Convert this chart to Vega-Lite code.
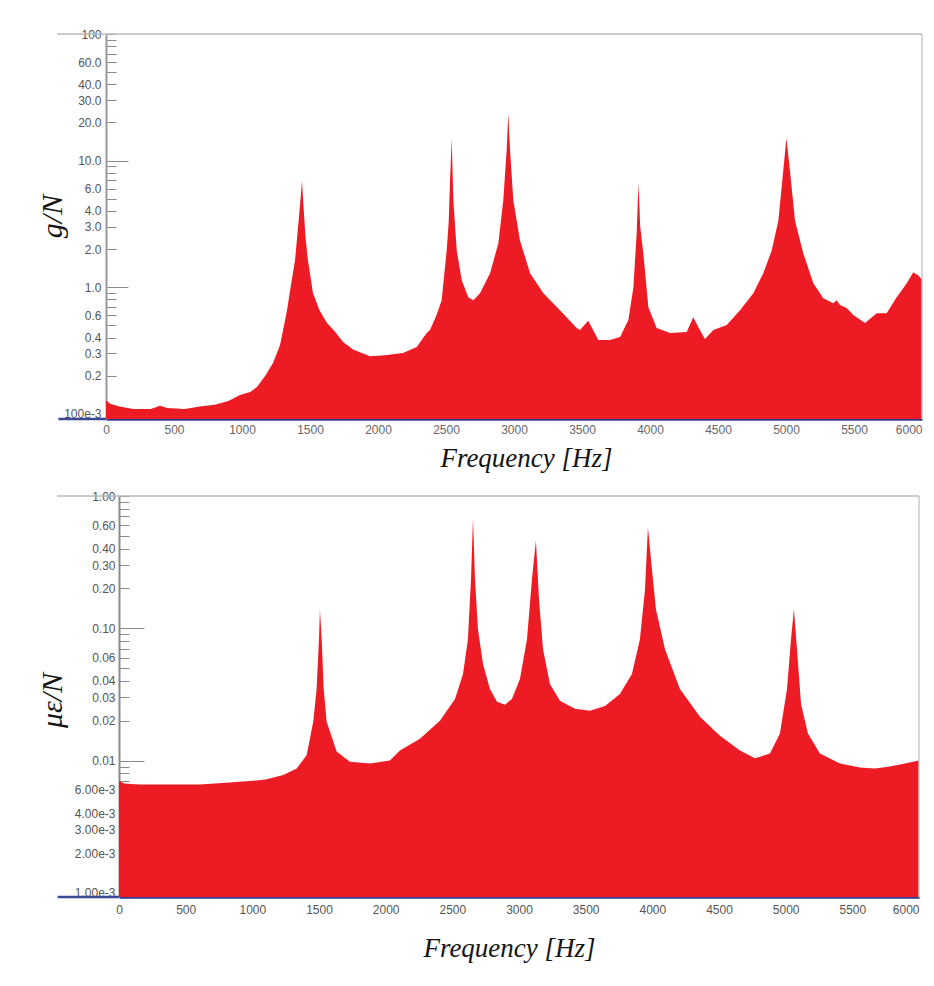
{
  "$schema": "https://vega.github.io/schema/vega-lite/v6.json",
  "background": "white",
  "padding": {"left": 37, "top": 28, "right": 5, "bottom": 5},
  "spacing": 19,
  "config": {
    "view": {"stroke": null},
    "axis": {
      "labelFont": "Liberation Sans",
      "labelFontSize": 12,
      "labelColor": "#555555",
      "titleFont": "Liberation Serif",
      "titleFontStyle": "italic",
      "titleFontWeight": "normal",
      "titleColor": "#151515",
      "titleFontSize": 27,
      "grid": false
    }
  },
  "datasets": {
    "accel": [
      {"f":0,"v":0.128},{"f":30,"v":0.120},{"f":100,"v":0.114},{"f":200,"v":0.109},{"f":330,"v":0.109},{"f":397,"v":0.116},{"f":450,"v":0.111},{"f":580,"v":0.109},{"f":690,"v":0.114},{"f":800,"v":0.118},{"f":900,"v":0.126},{"f":985,"v":0.141},{"f":1060,"v":0.149},{"f":1110,"v":0.163},{"f":1170,"v":0.199},{"f":1228,"v":0.252},{"f":1280,"v":0.349},{"f":1331,"v":0.659},{"f":1360,"v":1.04},{"f":1390,"v":1.63},{"f":1412,"v":2.97},{"f":1434,"v":5.5},{"f":1441,"v":6.96},{"f":1451,"v":4.57},{"f":1468,"v":2.4},{"f":1485,"v":1.63},{"f":1522,"v":0.897},{"f":1570,"v":0.659},{"f":1625,"v":0.521},{"f":1680,"v":0.45},{"f":1743,"v":0.369},{"f":1820,"v":0.32},{"f":1919,"v":0.292},{"f":1941,"v":0.285},{"f":2050,"v":0.29},{"f":2184,"v":0.302},{"f":2285,"v":0.337},{"f":2358,"v":0.434},{"f":2382,"v":0.46},{"f":2430,"v":0.6},{"f":2468,"v":0.79},{"f":2505,"v":1.95},{"f":2520,"v":3.3},{"f":2529,"v":6.6},{"f":2542,"v":15.0},{"f":2554,"v":4.84},{"f":2579,"v":1.95},{"f":2616,"v":1.135},{"f":2664,"v":0.834},{"f":2701,"v":0.79},{"f":2750,"v":0.897},{"f":2824,"v":1.29},{"f":2885,"v":2.22},{"f":2921,"v":4.84},{"f":2946,"v":12.0},{"f":2958,"v":23.4},{"f":2971,"v":12.0},{"f":2995,"v":4.84},{"f":3044,"v":2.34},{"f":3118,"v":1.29},{"f":3216,"v":0.897},{"f":3338,"v":0.659},{"f":3461,"v":0.476},{"f":3485,"v":0.459},{"f":3546,"v":0.543},{"f":3620,"v":0.383},{"f":3706,"v":0.383},{"f":3780,"v":0.404},{"f":3841,"v":0.55},{"f":3878,"v":1.0},{"f":3902,"v":2.66},{"f":3915,"v":6.7},{"f":3928,"v":3.0},{"f":3951,"v":1.85},{"f":3988,"v":0.696},{"f":4049,"v":0.476},{"f":4147,"v":0.434},{"f":4270,"v":0.442},{"f":4318,"v":0.58},{"f":4355,"v":0.484},{"f":4404,"v":0.39},{"f":4466,"v":0.459},{"f":4564,"v":0.502},{"f":4662,"v":0.659},{"f":4760,"v":0.897},{"f":4833,"v":1.29},{"f":4895,"v":1.95},{"f":4944,"v":3.37},{"f":4980,"v":8.34},{"f":5003,"v":15.0},{"f":5029,"v":8.34},{"f":5066,"v":3.37},{"f":5127,"v":1.85},{"f":5201,"v":1.075},{"f":5274,"v":0.819},{"f":5348,"v":0.748},{"f":5373,"v":0.79},{"f":5397,"v":0.722},{"f":5446,"v":0.684},{"f":5495,"v":0.602},{"f":5581,"v":0.521},{"f":5667,"v":0.624},{"f":5740,"v":0.624},{"f":5814,"v":0.834},{"f":5888,"v":1.075},{"f":5936,"v":1.31},{"f":5973,"v":1.24},{"f":6000,"v":1.15}
    ],
    "strain": [
      {"f":0,"v":0.0070},{"f":40,"v":0.0067},{"f":150,"v":0.0066},{"f":400,"v":0.0066},{"f":607,"v":0.0066},{"f":800,"v":0.0068},{"f":982,"v":0.0070},{"f":1100,"v":0.0072},{"f":1232,"v":0.00776},{"f":1333,"v":0.00871},{"f":1408,"v":0.0110},{"f":1457,"v":0.0197},{"f":1482,"v":0.0348},{"f":1500,"v":0.0826},{"f":1507,"v":0.138},{"f":1520,"v":0.0826},{"f":1535,"v":0.035},{"f":1557,"v":0.0197},{"f":1632,"v":0.0117},{"f":1732,"v":0.0098},{"f":1882,"v":0.0095},{"f":2032,"v":0.0100},{"f":2107,"v":0.0119},{"f":2257,"v":0.0146},{"f":2407,"v":0.0200},{"f":2520,"v":0.0292},{"f":2580,"v":0.0451},{"f":2617,"v":0.0826},{"f":2640,"v":0.234},{"f":2655,"v":0.68},{"f":2670,"v":0.234},{"f":2692,"v":0.0983},{"f":2730,"v":0.0536},{"f":2782,"v":0.0348},{"f":2835,"v":0.0278},{"f":2895,"v":0.0264},{"f":2947,"v":0.0292},{"f":3007,"v":0.0414},{"f":3060,"v":0.0826},{"f":3097,"v":0.234},{"f":3127,"v":0.46},{"f":3150,"v":0.165},{"f":3180,"v":0.0695},{"f":3232,"v":0.0379},{"f":3307,"v":0.0283},{"f":3420,"v":0.0246},{"f":3532,"v":0.0238},{"f":3645,"v":0.0259},{"f":3757,"v":0.0319},{"f":3847,"v":0.0451},{"f":3907,"v":0.0826},{"f":3945,"v":0.196},{"f":3967,"v":0.58},{"f":3990,"v":0.33},{"f":4027,"v":0.139},{"f":4095,"v":0.0695},{"f":4207,"v":0.0348},{"f":4357,"v":0.0214},{"f":4507,"v":0.0154},{"f":4657,"v":0.0119},{"f":4770,"v":0.0104},{"f":4882,"v":0.0113},{"f":4957,"v":0.0160},{"f":5010,"v":0.0348},{"f":5040,"v":0.0826},{"f":5062,"v":0.139},{"f":5085,"v":0.0695},{"f":5115,"v":0.0268},{"f":5167,"v":0.0160},{"f":5257,"v":0.0113},{"f":5407,"v":0.00949},{"f":5557,"v":0.00886},{"f":5670,"v":0.00871},{"f":5782,"v":0.00901},{"f":5895,"v":0.00949},{"f":6000,"v":0.0100}
    ]
  },
  "vconcat": [
    {
      "width": 816,
      "height": 385,
      "layer": [
        {
          "data": {"name": "accel"},
          "mark": {"type": "area", "color": "#ed1c24", "clip": true},
          "encoding": {
            "x": {
              "field": "f", "type": "quantitative",
              "scale": {"domain": [0, 6000], "nice": false, "zero": false},
              "title": "Frequency [Hz]",
              "axis": {
                "values": [0,500,1000,1500,2000,2500,3000,3500,4000,4500,5000,5500,6000],
                "format": "d",
                "ticks": false,
                "domainColor": "#2e3b8c",
                "domainWidth": 2.5,
                "labelPadding": 5,
                "labelColor": "#666666",
                "labelAlign": {"condition": {"test": "datum.value == 6000", "value": "right"}, "value": "center"},
                "titlePadding": 10,
                "titleX": 420
              }
            },
            "y": {
              "field": "v", "type": "quantitative",
              "scale": {"type": "log", "domain": [0.091, 100], "nice": false},
              "title": "g/N",
              "axis": {
                "values": [100,90,80,70,60,50,40,30,20,10,9,8,7,6,5,4,3,2,1,0.9,0.8,0.7,0.6,0.5,0.4,0.3,0.2,0.1],
                "labelExpr": "datum.value == 100 ? '100' : datum.value == 0.1 ? '100e-3' : indexof([60,40,30,20,10,6,4,3,2,1,0.6,0.4,0.3,0.2], datum.value) >= 0 ? format(datum.value, '.1f') : ''",
                "tickSize": {"condition": {"test": "datum.value == 10 || datum.value == 1", "value": -22}, "value": -10},
                "labelPadding": {"condition": {"test": "datum.value == 10 || datum.value == 1", "value": 27}, "value": 15},
                "tickColor": "#8a8a8a",
                "domainColor": "#9a9a9a",
                "domainWidth": 2,
                "titleFontSize": 30,
                "titleX": -54,
                "titleY": 182,
                "titleAngle": 270,
                "titleBaseline": "middle",
                "titleAlign": "center"
              }
            },
            "y2": {"datum": 0.091}
          }
        },
        {
          "data": {"values": [{}]},
          "mark": {"type": "rule", "color": "#3a4a96", "strokeWidth": 2.5, "clip": false},
          "encoding": {"x": {"datum": -350}, "x2": {"datum": 0}, "y": {"datum": 0.091}}
        },
        {
          "data": {"values": [{}]},
          "mark": {"type": "rule", "color": "#b8b8b8", "strokeWidth": 1.5, "clip": false},
          "encoding": {"x": {"datum": -360}, "x2": {"datum": 6000}, "y": {"datum": 100}}
        },
        {
          "data": {"values": [{}]},
          "mark": {"type": "rule", "color": "#c8c8c8", "strokeWidth": 1.5, "clip": false},
          "encoding": {"x": {"datum": 6000}, "y": {"datum": 0.091}, "y2": {"datum": 100}}
        }
      ]
    },
    {
      "width": 814,
      "height": 401,
      "layer": [
        {
          "data": {"name": "strain"},
          "mark": {"type": "area", "color": "#ed1c24", "clip": true},
          "encoding": {
            "x": {
              "field": "f", "type": "quantitative",
              "scale": {"domain": [0, 6000], "nice": false, "zero": false, "range": [13, 813]},
              "title": "Frequency [Hz]",
              "axis": {
                "values": [0,500,1000,1500,2000,2500,3000,3500,4000,4500,5000,5500,6000],
                "format": "d",
                "ticks": false,
                "domainColor": "#2e3b8c",
                "domainWidth": 2.5,
                "labelPadding": 7,
                "labelColor": "#555555",
                "labelAlign": {"condition": {"test": "datum.value == 6000", "value": "right"}, "value": "center"},
                "titlePadding": 20,
                "titleX": 403
              }
            },
            "y": {
              "field": "v", "type": "quantitative",
              "scale": {"type": "log", "domain": [0.00093, 1.0], "nice": false},
              "title": "με/N",
              "axis": {
                "values": [1,0.9,0.8,0.7,0.6,0.5,0.4,0.3,0.2,0.1,0.09,0.08,0.07,0.06,0.05,0.04,0.03,0.02,0.01,0.009,0.008,0.007,0.006,0.005,0.004,0.003,0.002,0.001],
                "labelExpr": "datum.value < 0.0095 ? (indexof([0.006,0.004,0.003,0.002,0.001], datum.value) >= 0 ? format(datum.value * 1000, '.2f') + 'e-3' : '') : (indexof([1,0.6,0.4,0.3,0.2,0.1,0.06,0.04,0.03,0.02,0.01], datum.value) >= 0 ? format(datum.value, '.2f') : '')",
                "tickSize": {"condition": {"test": "datum.value == 0.1 || datum.value == 0.01", "value": -25}, "value": -10},
                "labelPadding": {"condition": {"test": "datum.value == 0.1 || datum.value == 0.01", "value": 29}, "value": 14},
                "offset": -13,
                "tickColor": "#8a8a8a",
                "domainColor": "#8a8a8a",
                "domainWidth": 2,
                "titleFontSize": 30,
                "titleX": -67,
                "titleY": 204,
                "titleAngle": 270,
                "titleBaseline": "middle",
                "titleAlign": "center"
              }
            },
            "y2": {"datum": 0.00093}
          }
        },
        {
          "data": {"values": [{}]},
          "mark": {"type": "rule", "color": "#3a4a96", "strokeWidth": 2.5, "clip": false},
          "encoding": {"x": {"datum": -460}, "x2": {"datum": 0}, "y": {"datum": 0.00093}}
        },
        {
          "data": {"values": [{}]},
          "mark": {"type": "rule", "color": "#b8b8b8", "strokeWidth": 1.5, "clip": false},
          "encoding": {"x": {"datum": -465}, "x2": {"datum": 6000}, "y": {"datum": 1.0}}
        },
        {
          "data": {"values": [{}]},
          "mark": {"type": "rule", "color": "#c8c8c8", "strokeWidth": 1.5, "clip": false},
          "encoding": {"x": {"datum": 6000}, "y": {"datum": 0.00093}, "y2": {"datum": 1.0}}
        }
      ]
    }
  ]
}
